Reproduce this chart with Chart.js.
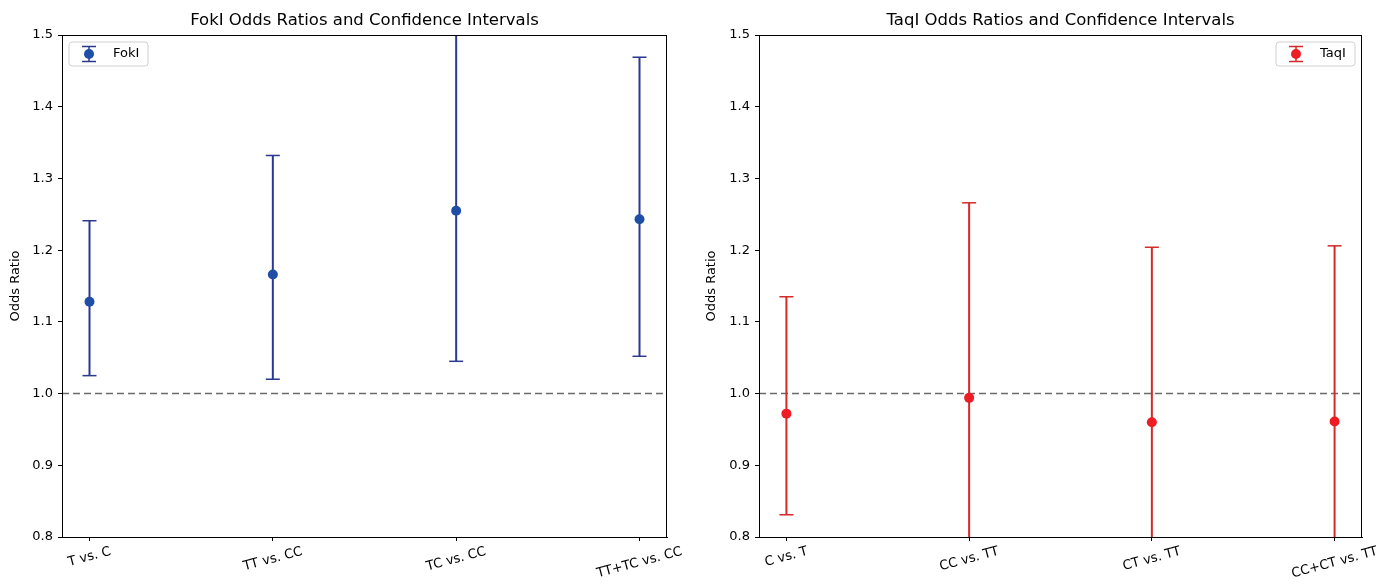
<!DOCTYPE html>
<html>
<head>
<meta charset="utf-8">
<script src="https://cdn.jsdelivr.net/npm/chart.js@4"></script>
<style>
  html, body { margin: 0; padding: 0; background: #fff; }
  #wrap { position: relative; width: 1392px; height: 584px; background: #fff; }
  canvas { position: absolute; top: 0; }
  #left { left: 0; }
  #right { left: 696px; }
</style>
</head>
<body>
<div id="wrap">
  <canvas id="left" width="696" height="584"></canvas>
  <canvas id="right" width="696" height="584"></canvas>
</div>
<script>
// data
const FOKI_CATS = ["T vs. C", "TT vs. CC", "TC vs. CC", "TT+TC vs. CC"];
const FOKI_OR = [1.128, 1.166, 1.255, 1.243];
const FOKI_LOW = [1.025, 1.020, 1.045, 1.052];
const FOKI_HIGH = [1.241, 1.332, 1.52, 1.469];

const TAQI_CATS = ["C vs. T", "CC vs. TT", "CT vs. TT", "CC+CT vs. TT"];
const TAQI_OR = [0.972, 0.994, 0.960, 0.961];
const TAQI_LOW = [0.831, 0.77, 0.77, 0.76];
const TAQI_HIGH = [1.135, 1.266, 1.204, 1.206];

const Y_TICKS = [0.8, 0.9, 1.0, 1.1, 1.2, 1.3, 1.4, 1.5];
const REF_LINE = 1.0;

Chart.defaults.font.family = "DejaVu Sans";
Chart.defaults.color = "#000";

const FONT = "DejaVu Sans";

// frame, title, rotated x labels and the in-plot legend
const decorPlugin = {
  id: "decor",
  afterDraw(chart, args, opts) {
    const ctx = chart.ctx;
    const a = chart.chartArea;
    ctx.save();
    // box
    ctx.strokeStyle = "#000";
    ctx.lineWidth = 1;
    ctx.strokeRect(a.left + 0.5, a.top + 0.5, a.right - a.left - 1, a.bottom - a.top);

    // title
    ctx.fillStyle = "#000";
    ctx.font = "16.5px " + FONT;
    ctx.textAlign = "center";
    ctx.textBaseline = "alphabetic";
    ctx.fillText(opts.title, (a.left + a.right) / 2, 25);

    // x tick labels, rotated 15 deg and centred on the tick
    const xs = chart.scales.x;
    const ang = 15 * Math.PI / 180;
    ctx.font = "13px " + FONT;
    opts.cats.forEach((lbl, i) => {
      const x = xs.getPixelForValue(i);
      const w = ctx.measureText(lbl).width;
      const h = 13;
      const bh = w * Math.sin(ang) + h * Math.cos(ang);
      const cy = a.bottom + 8 + bh / 2;
      ctx.save();
      ctx.translate(x, cy);
      ctx.rotate(-ang);
      ctx.textAlign = "center";
      ctx.textBaseline = "middle";
      ctx.fillText(lbl, 0, 0);
      ctx.restore();
    });

    // legend
    const bw = 79, bh = 24;
    const bx = opts.legendSide === "left" ? a.left + 7 : a.right - 7 - bw;
    const by = a.top + 7;
    ctx.beginPath();
    ctx.roundRect(bx, by, bw, bh, 3);
    ctx.fillStyle = "rgba(255,255,255,0.8)";
    ctx.fill();
    ctx.strokeStyle = "#d0d0d0";
    ctx.stroke();
    const gx = bx + 20, gy = by + bh / 2;
    ctx.strokeStyle = opts.lineColor;
    ctx.lineWidth = 1.5;
    ctx.beginPath();
    ctx.moveTo(gx, gy - 7.5); ctx.lineTo(gx, gy + 7.5);
    ctx.moveTo(gx - 7, gy - 7.5); ctx.lineTo(gx + 7, gy - 7.5);
    ctx.moveTo(gx - 7, gy + 7.5); ctx.lineTo(gx + 7, gy + 7.5);
    ctx.stroke();
    ctx.fillStyle = opts.markerColor;
    ctx.beginPath();
    ctx.arc(gx, gy, 5, 0, Math.PI * 2);
    ctx.fill();
    ctx.fillStyle = "#000";
    ctx.font = "13px " + FONT;
    ctx.textAlign = "left";
    ctx.textBaseline = "middle";
    ctx.fillText(opts.label, bx + 44, gy);
    ctx.restore();
  }
};

function makeChart(id, cfg) {
  const datasets = [];
  datasets.push({
    data: cfg.or.map((v, i) => ({ x: i, y: v })),
    showLine: false,
    pointRadius: 5,
    pointHoverRadius: 5,
    pointBackgroundColor: cfg.markerColor,
    pointBorderWidth: 0,
    order: 0
  });
  cfg.cats.forEach((c, i) => {
    datasets.push({
      data: [{ x: i, y: cfg.low[i] }, { x: i, y: cfg.high[i] }],
      borderColor: cfg.lineColor,
      borderWidth: 2,
      pointStyle: "line",
      pointRadius: 7,
      pointHoverRadius: 7,
      pointBorderColor: cfg.lineColor,
      pointBorderWidth: 1.5,
      order: 1
    });
  });
  datasets.push({
    data: [{ x: -0.15, y: REF_LINE }, { x: cfg.cats.length - 0.85, y: REF_LINE }],
    borderColor: "#6b6b6b",
    borderWidth: 1.5,
    borderDash: [7, 4],
    pointRadius: 0,
    order: 2
  });

  return new Chart(document.getElementById(id), {
    type: "line",
    data: { datasets },
    options: {
      responsive: false,
      animation: false,
      events: [],
      layout: { padding: { left: 0, right: cfg.padRight, top: 35, bottom: 0 } },
      scales: {
        x: {
          type: "linear",
          min: -0.15,
          max: cfg.cats.length - 0.85,
          afterBuildTicks: s => { s.ticks = cfg.cats.map((c, i) => ({ value: i })); },
          afterFit: s => { s.height = 47; },
          ticks: { display: false },
          grid: { drawOnChartArea: false, drawTicks: true, tickLength: 4, color: "#000" },
          border: { display: true, color: "#000", width: 1 }
        },
        y: {
          min: 0.8,
          max: 1.5,
          afterBuildTicks: s => { s.ticks = Y_TICKS.map(v => ({ value: v })); },
          afterFit: s => { s.width = cfg.axisWidth; },
          ticks: {
            callback: v => v.toFixed(1),
            padding: 5,
            font: { size: 13 },
            color: "#000"
          },
          grid: { drawOnChartArea: false, drawTicks: true, tickLength: 4, color: "#000" },
          border: { display: true, color: "#000", width: 1 },
          title: {
            display: true,
            text: "Odds Ratio",
            font: { size: 13 },
            color: "#000",
            padding: { top: 8, bottom: 4 }
          }
        }
      },
      plugins: {
        legend: { display: false },
        tooltip: { enabled: false },
        decor: {
          title: cfg.title,
          cats: cfg.cats,
          label: cfg.label,
          legendSide: cfg.legendSide,
          lineColor: cfg.lineColor,
          markerColor: cfg.markerColor
        }
      }
    },
    plugins: [decorPlugin]
  });
}

makeChart("left", {
  title: "FokI Odds Ratios and Confidence Intervals",
  label: "FokI",
  cats: FOKI_CATS, or: FOKI_OR, low: FOKI_LOW, high: FOKI_HIGH,
  lineColor: "#2b3990",
  markerColor: "#1f4ea6",
  legendSide: "left",
  axisWidth: 62,
  padRight: 29
});

makeChart("right", {
  title: "TaqI Odds Ratios and Confidence Intervals",
  label: "TaqI",
  cats: TAQI_CATS, or: TAQI_OR, low: TAQI_LOW, high: TAQI_HIGH,
  lineColor: "#d42a2a",
  markerColor: "#ee1c24",
  legendSide: "right",
  axisWidth: 63,
  padRight: 30
});
</script>
</body>
</html>
